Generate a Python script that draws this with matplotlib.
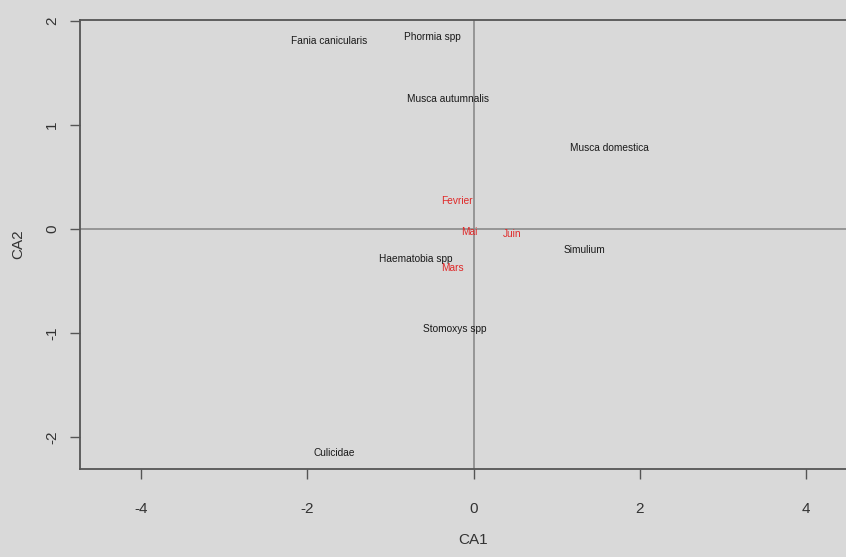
import matplotlib.pyplot as plt

plt.rcParams["axes.unicode_minus"] = False
plt.rcParams["font.family"] = ["Liberation Sans", "DejaVu Sans"]

# CA scores: species (columns) and months (rows)
species = ["Fania canicularis", "Phormia spp", "Musca autumnalis", "Musca domestica",
           "Haematobia spp", "Simulium", "Stomoxys spp", "Culicidae"]
species_ca1 = [-1.73, -0.49, -0.31, 1.63, -0.70, 1.33, -0.22, -1.67]
species_ca2 = [1.81, 1.85, 1.25, 0.78, -0.29, -0.20, -0.96, -2.16]

months = ["Fevrier", "Mai", "Juin", "Mars"]
months_ca1 = [-0.20, -0.05, 0.46, -0.25]
months_ca2 = [0.27, -0.03, -0.05, -0.38]

bg = "#d9d9d9"
fig = plt.figure(figsize=(8.46, 5.57), dpi=100, facecolor=bg)
ax = fig.add_axes([80 / 846, 88 / 557, 787 / 846, 449 / 557], facecolor=bg)

for name, x, y in zip(species, species_ca1, species_ca2):
    ax.text(x, y, name, fontsize=7.3, color="#1a1a1a", ha="center", va="center")
for name, x, y in zip(months, months_ca1, months_ca2):
    ax.text(x, y, name, fontsize=7.3, color="#e02828", ha="center", va="center")

ax.axhline(0, color="#8a8a8a", lw=1.2)
ax.axvline(0, color="#8a8a8a", lw=1.2)

ax.set_xlim(-4.73, 4.73)
ax.set_ylim(-2.31, 2.01)
ax.set_xticks([-4, -2, 0, 2, 4])
ax.set_yticks([-2, -1, 0, 1, 2])
ax.tick_params(direction="out", length=7, width=1, color="#555555",
               labelsize=11, labelcolor="#333333")
ax.tick_params(axis="x", pad=17)
ax.tick_params(axis="y", pad=8)
for lab in ax.get_yticklabels():
    lab.set_rotation(90)
    lab.set_va("center")

for side in ["left", "bottom", "top"]:
    ax.spines[side].set_color("#555555")
    ax.spines[side].set_linewidth(1.3)
ax.spines["right"].set_visible(False)

ax.set_xlabel("CA1", fontsize=11, color="#333333", labelpad=12)
ax.set_ylabel("CA2", fontsize=11, color="#333333", labelpad=14)

fig.savefig("out.png", dpi=100, facecolor=bg)
